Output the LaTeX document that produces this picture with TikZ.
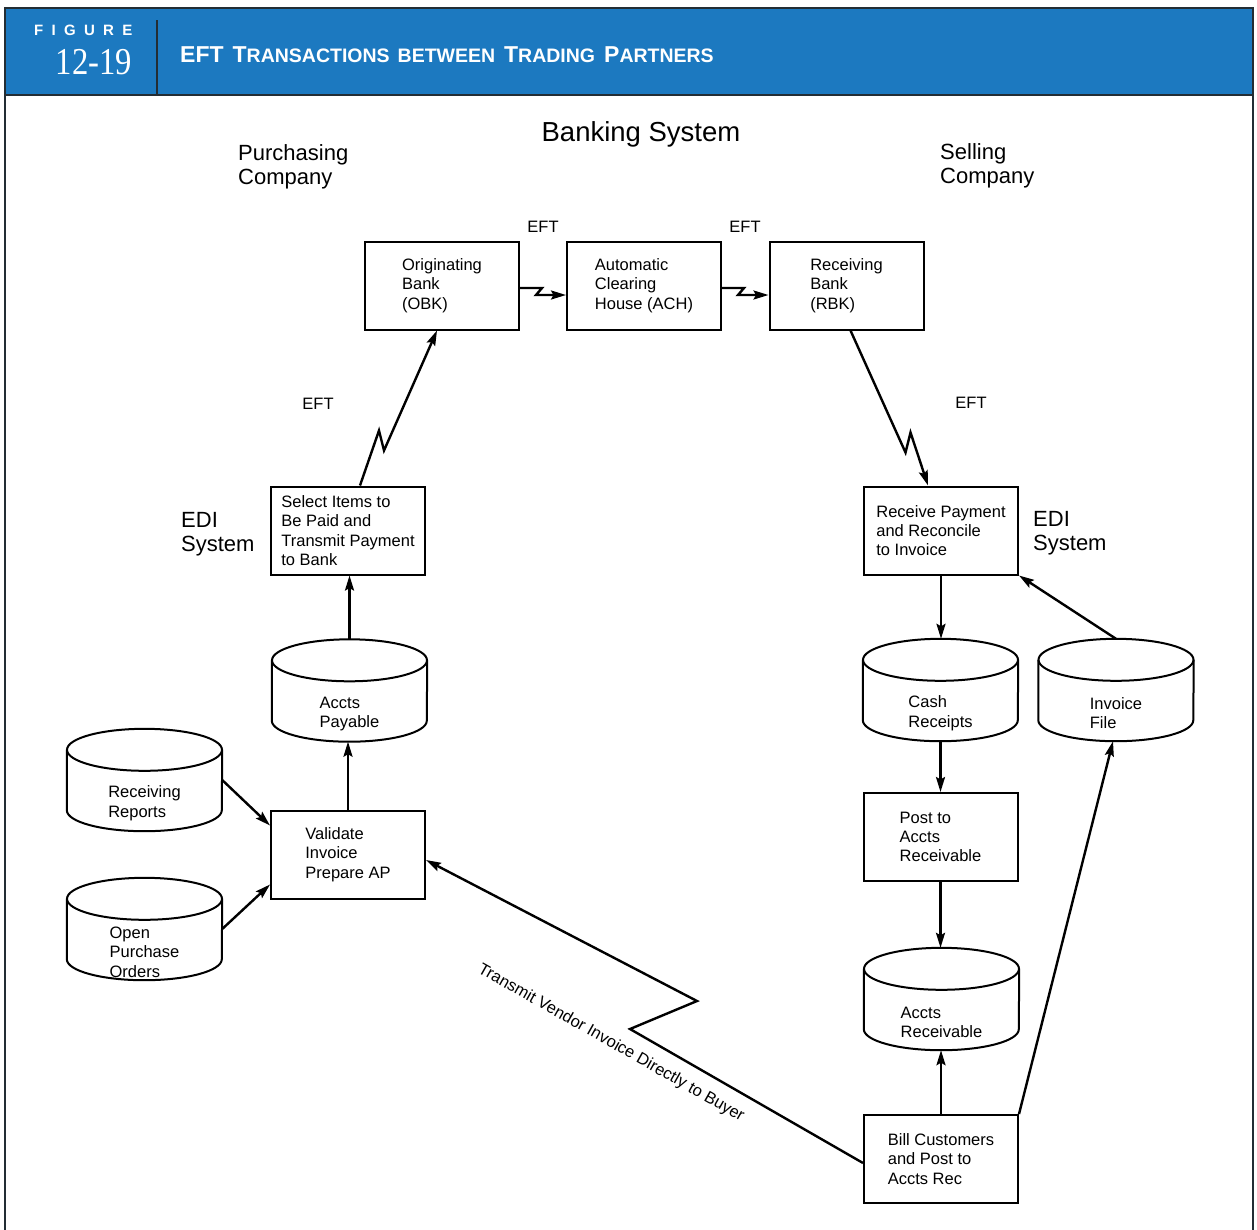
\documentclass[tikz,border=0pt]{standalone}
\usepackage{graphicx}
\usepackage{fontspec}
\setmainfont{Liberation Sans}
\newfontfamily\numfont{Liberation Serif}
\usetikzlibrary{arrows.meta,calc}

\definecolor{headblue}{RGB}{28,121,192}
\definecolor{frameline}{RGB}{35,45,52}

\newcommand\bodytext{\fontsize{16.5}{19.3}\selectfont}
\newcommand\headtext{\fontsize{22}{24}\selectfont}
\newcommand\smc[1]{{\fontsize{19.5}{20}\selectfont #1}}

% data store drawn as a cylinder around an empty named node
\newcommand\dbstore[4]{%
  \node[storebox] (#1) at (#2,#3) {};
  \draw[storeline] ($(#1.north)+(0,21)$) ellipse [x radius=77.5pt, y radius=21pt];
  \draw[storeline] ($(#1.north west)+(0,21)$) -- ($(#1.south west)+(0,-21)$)
     arc [start angle=180, end angle=360, x radius=77.5pt, y radius=21pt]
     -- ($(#1.north east)+(0,21)$);
  \node[storetext] (#1-t) at ($(#1.south)+(0,-28)$) {#4};
}

\begin{document}
\begin{tikzpicture}[x=1pt,y=-1pt,
  box/.style={draw, line width=2pt, minimum width=154pt, minimum height=88pt,
              align=left, inner sep=2pt, font=\bodytext},
  storebox/.style={minimum width=155pt, minimum height=102pt, inner sep=0pt},
  storeline/.style={line width=2pt},
  storetext/.style={align=left, inner sep=0pt, font=\bodytext},
  flow/.style={line width=2.4pt, line join=miter,
               -{Stealth[length=15pt,width=9pt,inset=2.5pt]}},
  lbl/.style={font=\headtext, align=left, inner sep=0pt},
  eft/.style={font=\bodytext, inner sep=0pt}]

\useasboundingbox (0,0) rectangle (1257,1229);
\fill[white] (0,0) rectangle (1257,1229);

% header band
\fill[headblue] (5,8) rectangle (1253,95);
\draw[frameline, line width=1.4pt] (5,1240) -- (5,8) -- (1253,8) -- (1253,1240);
\draw[frameline, line width=1.4pt] (5,95) -- (1253,95);
\draw[frameline, line width=2pt] (157,20) -- (157,95);
\node[text=white, anchor=west, inner sep=0pt, font=\fontsize{15}{15}\selectfont\bfseries]
  (figword) at (34,30.5) {F\kern8.3pt I\kern8.3pt G\kern8.3pt U\kern8.3pt R\kern8.3pt E};
\node[text=white, inner sep=0pt] (fignum) at (94,62)
  {\scalebox{0.86}[1]{\fontsize{38}{38}\numfont 12-19}};
\node[text=white, anchor=west, inner sep=0pt, font=\fontsize{23}{25}\selectfont\bfseries]
  (title) at (180,54.5) {EFT\kern9pt T\smc{RANSACTIONS\kern8pt BETWEEN}\kern9pt T\smc{RADING}\kern9pt P\smc{ARTNERS}};

% group headings
\node[font=\fontsize{27.5}{30}\selectfont, inner sep=0pt] (bank) at (641,134) {Banking System};
\node[lbl, anchor=west] (purch) at (238,167) {Purchasing\\Company};
\node[lbl, anchor=west] (sell) at (940,166) {Selling\\Company};
\node[lbl, anchor=west] (edil) at (181,534) {EDI\\System};
\node[lbl, anchor=west] (edir) at (1033,533) {EDI\\System};

% banks
\node[box] (obk) at (442,285.5) {Originating\\Bank\\(OBK)};
\node[box] (ach) at (644,285.5) {Automatic\\Clearing\\House (ACH)};
\node[box] (rbk) at (846.5,285.5) {Receiving\\Bank\\(RBK)};

% processes
\node[box] (sel) at (348,530.5) {Select Items to\\Be Paid and\\Transmit Payment\\to Bank};
\node[box] (rcv) at (941,530.5) {Receive Payment\\and Reconcile\\to Invoice};
\node[box] (val) at (348,854.5) {Validate\\Invoice\\Prepare AP};
\node[box] (post) at (940.5,837) {Post to\\Accts\\Receivable};
\node[box] (bill) at (941,1159) {Bill Customers\\and Post to\\Accts Rec};

% data stores
\dbstore{ap}{349.5}{690.5}{Accts\\Payable}
\dbstore{rr}{144.5}{780}{Receiving\\Reports}
\dbstore{opo}{144.5}{929}{Open\\Purchase\\Orders}
\dbstore{cr}{940.5}{690}{Cash\\Receipts}
\dbstore{ifile}{1116}{690}{Invoice\\File}
\dbstore{ar}{941.5}{999}{Accts\\Receivable}

% EFT labels
\node[eft] (eft1) at (543,227) {EFT};
\node[eft] (eft2) at (745,227) {EFT};
\node[eft] (eft3) at (318,404) {EFT};
\node[eft] (eft4) at (971,403) {EFT};

% bank-to-bank transfers
\draw[flow] ($(obk.east)+(0,2.5)$) -- ++(22,0) -- ++(-6,7) -- ($(ach.west)+(0,9.5)$);
\draw[flow] ($(ach.east)+(0,2.5)$) -- ++(22,0) -- ++(-6,7) -- ($(rbk.west)+(0,9.5)$);

% company-to-bank transfers
\draw[flow] ($(sel.north)+(12,0)$) -- ($(sel.north)+(31,-55)$) -- ($(sel.north)+(36,-35)$)
  -- ($(obk.south)+(-5,0)$);
\draw[flow] ($(rbk.south)+(4,0)$) -- ($(rbk.south)+(59,122)$) -- ($(rbk.south)+(64,102)$)
  -- ($(rcv.north)+(-13,0)$);

% purchasing side
\draw[flow] (val.north) -- (val.north |- ap.south);
\draw[flow] (ap.north) -- (ap.north |- sel.south);
\draw[flow] (rr.east) -- ($(val.north west)+(0,16)$);
\draw[flow] (opo.east) -- ($(val.south west)+(0,-15)$);

% selling side
\draw[flow] (rcv.south) -- (rcv.south |- cr.north);
\draw[flow] (cr.south) -- (cr.south |- post.north);
\draw[flow] (post.south) -- (post.south |- ar.north);
\draw[flow] (bill.north) -- (bill.north |- ar.south);
\draw[flow] (bill.north east) -- ($(ifile.south)+(-3,0)$);
\draw[flow] (ifile.north) -- (rcv.south east);

% vendor invoice sent straight to the buyer
\coordinate (zzA) at (697,1001);
\coordinate (zzB) at (630,1029);
\draw[flow] ($(bill.west)+(0,4)$) -- (zzB) -- (zzA) -- ($(val.east)+(0,5.5)$);
\node[eft, rotate=-29.5] (tvi) at (611,1043) {Transmit Vendor Invoice Directly to Buyer};

\end{tikzpicture}
\end{document}
